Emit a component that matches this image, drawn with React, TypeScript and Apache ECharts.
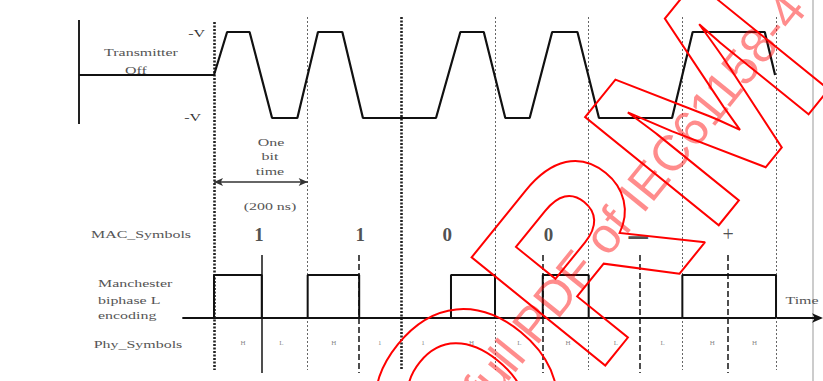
import * as echarts from 'echarts';
import { useEffect, useRef } from 'react';

// ---- data (time in bit periods, t = 0 at the first bit boundary) ----
const topTimes = [-1.44, 0, 0.14, 0.38, 0.62, 0.89, 1.11, 1.37, 1.59, 2.37, 2.63, 2.88, 3.11, 3.37, 3.61, 3.88, 4.11, 4.89, 5.11, 5.88, 5.99];
const topLevels = [0, 0, 1, 1, -1, -1, 1, 1, -1, -1, 1, 1, -1, -1, 1, 1, -1, -1, 1, 1, 0];

const manTimes = [0, 0, 0.51, 0.51, 1.0, 1.0, 1.55, 1.55, 2.53, 2.53, 3.0, 3.0, 3.51, 3.51, 4.0, 4.0, 5.0, 5.0, 6.0, 6.0];
const manLevels = [0, 1, 1, 0, 0, 1, 1, 0, 0, 1, 1, 0, 0, 1, 1, 0, 0, 1, 1, 0];

const macSymbols = ['1', '1', '0', '0', '—', '+'];
const macTimes = [0.48, 1.56, 2.49, 3.57, 4.53, 5.49];

const phySymbols = ['H', 'L', 'H', '1', '1', 'H', 'L', 'H', 'L', 'L', 'H', 'H'];
const phyTimes = [0.31, 0.72, 1.28, 1.77, 2.23, 2.75, 3.26, 3.78, 4.29, 4.79, 5.32, 5.77];

const bitBoundaries = [0, 1, 2, 3, 4, 5, 6];
const boldBoundaries = [0, 2];
const halfBitMarks = [0.51, 1.55, 3.51, 4.55, 5.48];

// ---- layout ----
const PX = 93.67;
const X0 = 214;
const topRange = [-1.44, 6];
const manRange = [-0.33, 6.47];
const ovRange = [0, 6];
const gridFor = (r: number[], top: number, height: number) => ({
  left: X0 + r[0] * PX,
  width: (r[1] - r[0]) * PX,
  top,
  height,
  containLabel: false,
});

const SERIF = "'Liberation Serif', 'DejaVu Serif', serif";
const labelText = (text: string, x: number, y: number, align = 'center', extra: any = {}) => ({
  type: 'text',
  x,
  y,
  scaleX: 1.45,
  z: 10,
  style: {
    text,
    fontSize: 11,
    fontFamily: SERIF,
    fill: '#555',
    textAlign: align,
    verticalAlign: 'middle',
    ...extra,
  },
});

const ANG = (51 * Math.PI) / 180;

export default function App() {
  const ref = useRef<HTMLDivElement>(null);
  useEffect(() => {
    const chart = echarts.init(ref.current!, null, { renderer: 'svg' });
    const hiddenX = (r: number[], gi: number) => ({
      type: 'value', gridIndex: gi, min: r[0], max: r[1], show: false,
    });
    const option: any = {
      animation: false,
      backgroundColor: '#fff',
      grid: [
        gridFor(topRange, 32, 86),
        gridFor(manRange, 255, 118),
        gridFor(ovRange, 0, 381),
      ],
      xAxis: [
        hiddenX(topRange, 0),
        {
          type: 'value', gridIndex: 1, min: manRange[0], max: manRange[1],
          axisLine: {
            show: true, onZero: true, symbol: ['none', 'arrow'], symbolSize: [7, 11], symbolOffset: [0, 3],
            lineStyle: { color: '#111', width: 2 },
          },
          axisTick: { show: false }, axisLabel: { show: false }, splitLine: { show: false },
        },
        hiddenX(ovRange, 2),
      ],
      yAxis: [
        { type: 'value', gridIndex: 0, min: -1, max: 1, show: false },
        { type: 'value', gridIndex: 1, min: -1.28, max: 1.465, show: false },
        { type: 'value', gridIndex: 2, min: 0, max: 381, inverse: true, show: false },
      ],
      series: [
        {
          type: 'line', xAxisIndex: 0, yAxisIndex: 0, symbol: 'none', clip: false,
          data: topTimes.map((t, i) => [t, topLevels[i]]),
          lineStyle: { color: '#111', width: 2.2 },
          z: 5,
        },
        {
          type: 'line', xAxisIndex: 1, yAxisIndex: 1, symbol: 'none', clip: false,
          data: manTimes.map((t, i) => [t, manLevels[i]]),
          lineStyle: { color: '#111', width: 2 },
          z: 5,
        },
        {
          type: 'scatter', xAxisIndex: 1, yAxisIndex: 1, symbolSize: 0, silent: true,
          data: phyTimes.map((t, i) => ({ value: [t, -0.58], name: phySymbols[i] })),
          label: {
            show: true, position: 'inside', formatter: '{b}', fontSize: 7,
            fontFamily: SERIF, color: '#666',
          },
        },
        {
          type: 'scatter', xAxisIndex: 2, yAxisIndex: 2, symbolSize: 0, silent: true,
          data: macTimes.map((t, i) => ({ value: [t, 234], name: macSymbols[i] })),
          label: {
            show: true, position: 'inside',
            formatter: (p: any) =>
              p.name === '—' ? '{d|—}' : p.name === '+' ? '{p|+}' : '{n|' + p.name + '}',
            rich: {
              n: { fontSize: 19, fontWeight: 'bold', fontFamily: SERIF, color: '#222' },
              d: { fontSize: 22, fontWeight: 'bold', fontFamily: "'DejaVu Sans', sans-serif", color: '#222', padding: [4, 0, 0, 0] },
              p: { fontSize: 20, fontWeight: 'normal', fontFamily: SERIF, color: '#222' },
            },
          },
        },
        {
          type: 'scatter', xAxisIndex: 2, yAxisIndex: 2, symbolSize: 0, silent: true,
          data: [],
          markLine: {
            silent: true, symbol: ['none', 'none'], label: { show: false },
            data: [
              ...bitBoundaries.map((t) => {
                const bold = boldBoundaries.includes(t);
                return [
                  {
                    coord: [t, t === 0 ? 22 : 17],
                    lineStyle: bold
                      ? { color: '#222', width: 2.6, type: [2, 1.5] }
                      : { color: '#666', width: 1, type: [2, 2] },
                  },
                  { coord: [t, 370] },
                ];
              }),
              ...halfBitMarks.map((t, i) => [
                {
                  coord: [t, 255],
                  lineStyle: i === 0
                    ? { color: '#222', width: 1.6, type: 'solid' }
                    : { color: '#222', width: 1.6, type: [6, 3] },
                },
                { coord: [t, 373] },
              ]),
            ],
          },
        },
        {
          type: 'scatter', xAxisIndex: 2, yAxisIndex: 2, symbolSize: 0, silent: true,
          data: [],
          markLine: {
            silent: true, symbol: ['arrow', 'arrow'], symbolSize: [6, 9], label: { show: false },
            lineStyle: { color: '#333', width: 1.5, type: 'solid' },
            data: [[{ coord: [0, 182] }, { coord: [1, 182] }]],
          },
        },
      ],
      graphic: [
        { type: 'line', shape: { x1: 79, y1: 20, x2: 79, y2: 124 }, style: { stroke: '#222', lineWidth: 2 } },
        { type: 'line', shape: { x1: 813, y1: 0, x2: 813, y2: 381 }, style: { stroke: '#999', lineWidth: 1 } },
        labelText('Transmitter', 141, 52),
        labelText('Off', 136, 70),
        labelText('-V', 205, 33, 'right', { fill: '#333' }),
        labelText('-V', 201, 117, 'right', { fill: '#333' }),
        labelText('One', 271, 142),
        labelText('bit', 270, 156),
        labelText('time', 270, 171),
        labelText('(200 ns)', 270, 206),
        labelText('MAC_Symbols', 141, 234),
        labelText('Manchester', 98, 283, 'left'),
        labelText('biphase L', 98, 300, 'left'),
        labelText('encoding', 98, 315, 'left'),
        labelText('Phy_Symbols', 138, 344),
        labelText('Time', 802, 300),
        {
          type: 'text', x: 772, y: 22, rotation: ANG, z: 100, silent: true,
          style: {
            text: 'IECNORM', fontSize: 250, fontWeight: 'bold',
            fontFamily: "'Liberation Sans', sans-serif",
            fill: 'none', stroke: '#f00', lineWidth: 2,
            textAlign: 'right', verticalAlign: 'middle',
          },
        },
        {
          type: 'text', x: 795, y: 0, rotation: ANG, z: 101, silent: true,
          style: {
            text: 'Click to view the full PDF of IEC61158-4', fontSize: 50,
            fontFamily: "'Liberation Sans', sans-serif",
            fill: 'rgba(255,0,0,0.45)',
            textAlign: 'right', verticalAlign: 'middle',
          },
        },
      ],
    };
    chart.setOption(option);
    return () => chart.dispose();
  }, []);
  return (
    <div
      ref={ref}
      style={{ position: 'fixed', left: 0, top: 0, width: 823, height: 381, background: '#fff' }}
    />
  );
}
